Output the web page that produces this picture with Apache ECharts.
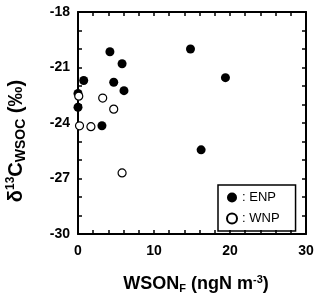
<!DOCTYPE html>
<html><head><meta charset="utf-8">
<script src="https://cdn.jsdelivr.net/npm/echarts@6/dist/echarts.min.js"></script>
<style>html,body{margin:0;padding:0;background:#fff}#c{width:320px;height:301px}</style>
</head><body><div id="c"></div>
<script>
var enpX = [14.8, 4.2, 5.8, 19.4, 0.75, 4.7, 6.05, 0, 0, 3.15, 16.2];
var enpY = [-20.0, -20.15, -20.8, -21.55, -21.7, -21.8, -22.25, -22.4, -23.15, -24.15, -25.45];
var wnpX = [0.1, 3.25, 4.7, 0.2, 1.7, 5.8];
var wnpY = [-22.55, -22.65, -23.25, -24.15, -24.2, -26.7];
var xTickLabels = [0, 10, 20, 30];
var yTickLabels = [-18, -21, -24, -27, -30];

function pairs(a, b) { return a.map(function (v, i) { return [v, b[i]]; }); }
var font = 'Liberation Sans, Arial, sans-serif';
var chart = echarts.init(document.getElementById('c'));
function axLine() { return { show: true, onZero: false, lineStyle: { color: '#000', width: 2 } }; }
function tick() { return { show: true, inside: true, length: 4, lineStyle: { color: '#000', width: 1.5 } }; }
chart.setOption({
  animation: false,
  grid: { left: 78, right: 14, top: 12, bottom: 67, containLabel: false, outerBoundsMode: 'none' },
  xAxis: [{
    type: 'value', min: 0, max: 30, interval: 2,
    axisLine: axLine(), axisTick: tick(), splitLine: { show: false },
    axisLabel: { margin: 10, color: '#000', fontFamily: font, fontWeight: 'bold', fontSize: 14,
      formatter: function (v) { return xTickLabels.indexOf(v) >= 0 ? String(v) : ''; } },
    name: '{m|WSON}{s|F}{m| (ngN m}{p|-3}{m|)}', nameLocation: 'middle', nameGap: 40,
    nameTextStyle: { padding: [0, 0, 0, 8], rich: {
      m: { fontFamily: font, fontWeight: 'bold', fontSize: 18, color: '#000' },
      s: { fontFamily: font, fontWeight: 'bold', fontSize: 11, color: '#000', verticalAlign: 'bottom', padding: [9, 0, 0, 0] },
      p: { fontFamily: font, fontWeight: 'bold', fontSize: 11, color: '#000', verticalAlign: 'top', padding: [0, 0, 9, 0] } } }
  }, {
    type: 'value', position: 'top', min: 0, max: 30, interval: 2,
    axisLine: axLine(), axisTick: tick(), axisLabel: { show: false }, splitLine: { show: false }
  }],
  yAxis: [{
    type: 'value', min: -30, max: -18, interval: 1,
    axisLine: axLine(), axisTick: tick(), splitLine: { show: false },
    axisLabel: { margin: 8, color: '#000', fontFamily: font, fontWeight: 'bold', fontSize: 14,
      formatter: function (v) { return yTickLabels.indexOf(v) >= 0 ? String(v) : ''; } },
    name: '{m|δ}{p|13}{m|C}{s|WSOC}{m| (‰)}', nameLocation: 'middle', nameGap: 50, nameRotate: 90,
    nameTextStyle: { padding: [0, 36, 0, 0], rich: {
      m: { fontFamily: font, fontWeight: 'bold', fontSize: 20, color: '#000' },
      s: { fontFamily: font, fontWeight: 'bold', fontSize: 14, color: '#000', verticalAlign: 'bottom', padding: [9, 0, 0, 0] },
      p: { fontFamily: font, fontWeight: 'bold', fontSize: 12, color: '#000', verticalAlign: 'top', padding: [0, 0, 10, 0] } } }
  }, {
    type: 'value', position: 'right', min: -30, max: -18, interval: 1,
    axisLine: axLine(), axisTick: tick(), axisLabel: { show: false }, splitLine: { show: false }
  }],
  legend: {
    orient: 'vertical', left: 218, top: 185,
    borderColor: '#000', borderWidth: 1.5, padding: [6, 16, 6, 8], itemGap: 8,
    itemWidth: 10, itemHeight: 10,
    textStyle: { fontFamily: font, fontSize: 13, color: '#000' },
    formatter: function (n) { return ': ' + n; },
    data: ['ENP', 'WNP']
  },
  series: [{
    name: 'ENP', type: 'scatter', symbol: 'circle', symbolSize: 9,
    itemStyle: { color: '#000', opacity: 1 }, data: pairs(enpX, enpY)
  }, {
    name: 'WNP', type: 'scatter', symbol: 'circle', symbolSize: 8,
    itemStyle: { color: '#fff', borderColor: '#000', borderWidth: 1.2, opacity: 1 }, data: pairs(wnpX, wnpY)
  }]
});
</script></body></html>
